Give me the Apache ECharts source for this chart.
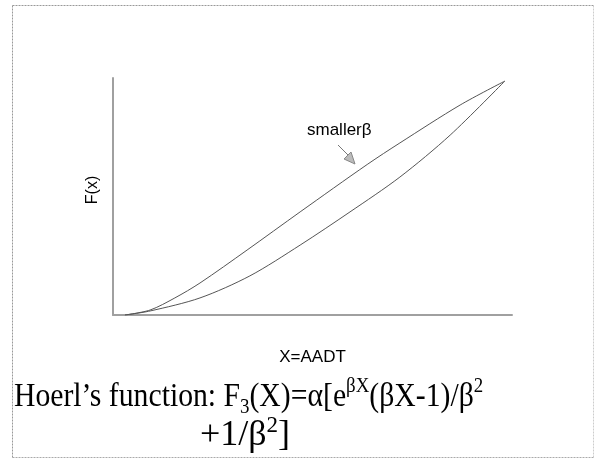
<!DOCTYPE html>
<html>
<head>
<meta charset="utf-8">
<script src="https://cdn.jsdelivr.net/npm/echarts@6/dist/echarts.min.js"></script>
<style>
  html, body { margin: 0; padding: 0; background: #fff; }
  #chart { width: 596px; height: 461px; }
</style>
</head>
<body>
<div id="chart"></div>
<script>
// Hoerl's function curves, normalised to a 0–100 range on both axes
const upperX = [3.0, 9.3, 15.5, 21.8, 33.6, 46.9, 63.7, 71.9, 87.0, 98.2];
const upperY = [0, 2.1, 7.2, 13.5, 27.4, 43.5, 63.5, 72.6, 88.6, 98.7];
const lowerX = [3.0, 9.3, 21.8, 34.3, 46.9, 59.4, 71.9, 84.5, 98.2];
const lowerY = [0, 1.7, 7.2, 16.5, 29.5, 43.5, 58.2, 75.9, 98.7];

const xName = 'X=AADT';
const yName = 'F(x)';
const curveNote = 'smallerβ';

const pairs = (xs, ys) => xs.map((x, i) => [x, ys[i]]);

const chart = echarts.init(document.getElementById('chart'), null, { renderer: 'canvas' });

const sans = 'Liberation Sans, Arial, sans-serif';
const serif = 'Liberation Serif, Times New Roman, serif';
const axisGray = '#a0a0a0';

chart.setOption({
  backgroundColor: '#fff',
  animation: false,
  grid: { left: 113, top: 78, right: 84, bottom: 146 },
  xAxis: {
    type: 'value', min: 0, max: 100,
    name: xName, nameLocation: 'middle', nameGap: 34,
    nameTextStyle: { fontFamily: sans, fontSize: 17, color: '#000' },
    axisLine: { lineStyle: { color: axisGray, width: 2 } },
    axisTick: { show: false }, axisLabel: { show: false }, splitLine: { show: false }
  },
  yAxis: {
    type: 'value', min: 0, max: 100,
    axisLine: { show: true, lineStyle: { color: axisGray, width: 2 } },
    axisTick: { show: false }, axisLabel: { show: false }, splitLine: { show: false }
  },
  series: [
    {
      type: 'line', smooth: 0.3, showSymbol: false,
      data: pairs(upperX, upperY),
      lineStyle: { color: '#555', width: 1 }
    },
    {
      type: 'line', smooth: 0.3, showSymbol: false,
      data: pairs(lowerX, lowerY),
      lineStyle: { color: '#555', width: 1 }
    }
  ],
  graphic: [
    // dotted frame
    { type: 'line', shape: { x1: 12.5, y1: 5.5, x2: 593.5, y2: 5.5 }, style: { stroke: '#999', lineWidth: 1, lineDash: [2, 1] } },
    { type: 'line', shape: { x1: 12.5, y1: 5.5, x2: 12.5, y2: 457.5 }, style: { stroke: '#999', lineWidth: 1, lineDash: [2, 1] } },
    { type: 'line', shape: { x1: 12.5, y1: 457.5, x2: 593.5, y2: 457.5 }, style: { stroke: '#aaa', lineWidth: 1, lineDash: [2, 1] } },
    { type: 'line', shape: { x1: 593.5, y1: 5.5, x2: 593.5, y2: 457.5 }, style: { stroke: '#ccc', lineWidth: 1, lineDash: [2, 1] } },
    // y-axis title
    {
      type: 'text', x: 93, y: 190, rotation: Math.PI / 2,
      style: { text: yName, font: '16px ' + sans, fill: '#000', align: 'center', verticalAlign: 'middle' }
    },
    // curve annotation
    {
      type: 'text', left: 307, top: 122,
      style: { text: curveNote, font: '17px ' + sans, fill: '#000' }
    },
    { type: 'line', shape: { x1: 338, y1: 145, x2: 349, y2: 156 }, style: { stroke: '#777', lineWidth: 1 } },
    {
      type: 'polygon',
      shape: { points: [[355, 164], [344, 159], [351, 152]] },
      style: { fill: '#bbb', stroke: '#888', lineWidth: 1 }
    },
    // formula caption, first line
    {
      type: 'text', x: 14, y: 376, scaleX: 0.9,
      style: {
        text: '{b|Hoerl’s function: F}{sub|3}{b|(X)=α[e}{sup|βX}{b|(βX-1)/β}{sup|2}',
        rich: {
          b: { fontFamily: serif, fontSize: 33, lineHeight: 38, fill: '#000', verticalAlign: 'bottom' },
          sup: { fontFamily: serif, fontSize: 21, lineHeight: 22, fill: '#000', verticalAlign: 'top' },
          sub: { fontFamily: serif, fontSize: 21, lineHeight: 22, fill: '#000', verticalAlign: 'bottom', padding: [0, 0, -4, 0] }
        }
      }
    },
    // formula caption, second line
    {
      type: 'text', x: 200, y: 414,
      style: {
        text: '{b|+1/β}{sup|2}{b|]}',
        rich: {
          b: { fontFamily: serif, fontSize: 36, lineHeight: 40, fill: '#000', verticalAlign: 'bottom' },
          sup: { fontFamily: serif, fontSize: 23, lineHeight: 23, fill: '#000', verticalAlign: 'top' }
        }
      }
    }
  ]
});
</script>
</body>
</html>
